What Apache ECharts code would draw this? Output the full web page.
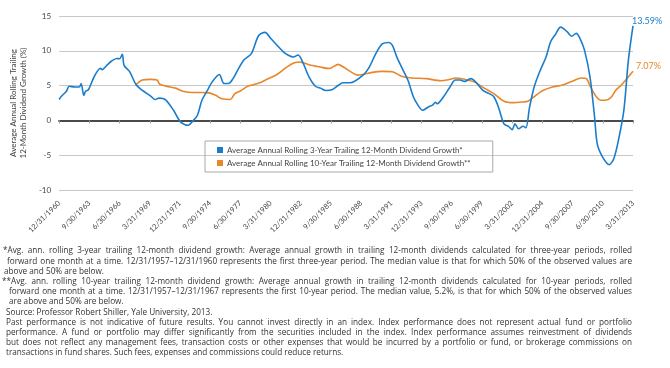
<!DOCTYPE html>
<html>
<head>
<meta charset="utf-8">
<script src="https://cdn.jsdelivr.net/npm/echarts@6/dist/echarts.min.js"></script>
<style>
  html, body { margin: 0; padding: 0; background: #fff; }
  #chart { width: 670px; height: 368px; }
</style>
</head>
<body>
<div id="chart"></div>
<script>
// x = months since 12/31/1960, y = growth (%)
var tickLabels = ['12/31/1960', '9/30/1963', '6/30/1966', '3/31/1969', '12/31/1971', '9/30/1974',
    '6/30/1977', '3/31/1980', '12/31/1982', '9/30/1985', '6/30/1988', '3/31/1991', '12/31/1993',
    '9/30/1996', '6/30/1999', '3/31/2002', '12/31/2004', '9/30/2007', '6/30/2010', '3/31/2013'];

var threeYear = [
    [0, 3.0], [2, 3.4], [8, 4.2], [11, 4.9], [17, 4.8], [22, 4.8], [24, 5.3], [27, 3.6], [29, 4.2],
    [32, 4.4], [38, 6.2], [45, 7.5], [47, 7.3], [52, 7.9], [57, 8.5], [63, 8.9], [66, 8.85], [69, 9.5],
    [71, 7.9], [77, 7.0], [84, 5.15], [91, 4.3], [100, 3.5], [105, 3.0], [109, 3.2], [116, 3.0],
    [125, 1.45], [132, -0.1], [141, -0.7], [146, -0.1], [151, 0.7], [156, 2.9], [162, 4.3], [167, 5.5],
    [175, 6.6], [180, 5.3], [185, 5.3], [190, 6.0], [195, 7.2], [202, 8.7], [210, 9.6], [218, 12.2],
    [225, 12.65], [231, 11.8], [238, 10.8], [245, 9.85], [250, 9.4], [256, 9.1], [261, 9.4], [266, 8.4],
    [273, 6.25], [280, 4.9], [286, 4.6], [291, 4.3], [298, 4.4], [305, 5.05], [310, 5.4], [318, 5.4],
    [332, 6.5], [339, 7.7], [346, 9.6], [353, 11.0], [360, 11.2], [364, 10.8], [369, 9.1], [374, 7.7],
    [381, 5.8], [387, 3.4], [392, 2.2], [397, 1.45], [403, 1.9], [408, 2.2], [411, 2.6], [413, 2.4],
    [420, 3.4], [427, 4.8], [433, 5.8], [438, 5.8], [443, 5.6], [450, 6.0], [456, 5.4], [463, 4.3],
    [470, 3.85], [475, 3.4], [480, 1.9], [486, -0.5], [491, -0.85], [495, -1.35], [498, -0.5],
    [502, -1.2], [507, -0.85], [510, -1.05], [514, 1.9], [519, 4.8], [525, 7.0], [532, 9.1],
    [537, 11.3], [542, 12.3], [548, 13.4], [555, 12.75], [560, 12.1], [565, 12.5], [569, 11.8],
    [574, 10.1], [580, 6.25], [585, 0.5], [588, -3.4], [594, -5.3], [601, -6.35], [606, -5.5],
    [611, -2.9], [617, 1.45], [622, 8.7], [627, 13.59]
];

var tenYear = [
    [84, 5.15], [91, 5.8], [100, 5.9], [107, 5.8], [110, 5.2], [121, 4.8], [128, 4.6], [135, 4.2],
    [146, 4.0], [156, 4.0], [164, 3.95], [171, 3.6], [178, 3.1], [187, 3.0], [192, 3.85], [199, 4.3],
    [206, 4.9], [217, 5.3], [227, 5.9], [238, 6.6], [249, 7.7], [257, 8.3], [263, 8.4], [273, 8.0],
    [284, 7.7], [295, 7.45], [305, 8.05], [310, 7.7], [321, 6.8], [326, 6.5], [332, 6.6], [342, 6.9],
    [353, 7.05], [364, 7.0], [374, 6.35], [385, 6.1], [401, 6.0], [417, 5.7], [427, 5.9], [433, 6.1],
    [443, 5.9], [454, 5.5], [465, 4.6], [475, 3.85], [486, 2.75], [496, 2.55], [507, 2.65], [512, 2.75],
    [518, 3.3], [528, 4.25], [539, 4.8], [549, 5.05], [560, 5.6], [571, 6.1], [576, 6.0], [581, 4.7],
    [587, 3.4], [592, 2.9], [597, 2.9], [603, 3.3], [608, 4.3], [614, 5.05], [619, 5.8], [627, 7.07]
];

// footnote lines: [text, left indent, justified?]
var footnotes = [
    ['*Avg. ann. rolling 3-year trailing 12-month dividend growth: Average annual growth in trailing 12-month dividends calculated for three-year periods, rolled', 3, true],
    ['forward one month at a time. 12/31/1957\u201312/31/1960 represents the first three-year period. The median value is that for which 50% of the observed values are', 7, true],
    ['above and 50% are below.', 4, false],
    ['**Avg. ann. rolling 10-year trailing 12-month dividend growth: Average annual growth in trailing 12-month dividends calculated for 10-year periods, rolled', 2, true],
    ['forward one month at a time. 12/31/1957\u201312/31/1967 represents the first 10-year period. The median value, 5.2%, is that for which 50% of the observed values', 9, true],
    ['are above and 50% are below.', 9, false],
    ['Source: Professor Robert Shiller, Yale University, 2013.', 6, false],
    ['Past performance is not indicative of future results. You cannot invest directly in an index. Index performance does not represent actual fund or portfolio', 6, true],
    ['performance. A fund or portfolio may differ significantly from the securities included in the index. Index performance assumes reinvestment of dividends', 6, true],
    ['but does not reflect any management fees, transaction costs or other expenses that would be incurred by a portfolio or fund, or brokerage commissions on', 6, true],
    ['transactions in fund shares. Such fees, expenses and commissions could reduce returns.', 6, false]
];

var blue = '#1a7dcc';
var orange = '#e8862c';
var font = 'Lato';
var noteFont = 'Open Sans';
var noteSize = 8.2;

var chart = echarts.init(document.getElementById('chart'));

// justify footnote lines word by word
var ctx = document.createElement('canvas').getContext('2d');
ctx.font = noteSize + 'px "' + noteFont + '"';
var notes = [];
footnotes.forEach(function (f, i) {
    var y = 251 + i * 10.2;
    var words = f[0].split(' ');
    var widths = words.map(function (w) { return ctx.measureText(w).width; });
    var total = widths.reduce(function (a, b) { return a + b; }, 0);
    var gap = ctx.measureText(' ').width;
    if (f[2]) gap = (632 - f[1] - total) / (words.length - 1);
    var x = f[1];
    words.forEach(function (w, j) {
        notes.push({
            type: 'text', x: x, y: y, silent: true,
            style: { text: w, fill: '#333', fontSize: noteSize, fontFamily: noteFont, verticalAlign: 'middle' }
        });
        x += widths[j] + gap;
    });
});

chart.setOption({
    animation: false,
    textStyle: { fontFamily: font },
    grid: { left: 43, right: 37, top: 16, bottom: 178 },
    legend: {
        orient: 'vertical',
        left: 205,
        top: 141,
        padding: [5, 22, 5, 12],
        itemGap: 5,
        itemWidth: 6,
        itemHeight: 6,
        icon: 'rect',
        borderColor: '#a8a8a8',
        borderWidth: 1,
        textStyle: { color: '#444', fontSize: 8, fontFamily: font, padding: [0, 0, 0, -1] },
        data: ['Average Annual Rolling 3-Year Trailing 12-Month Dividend Growth*',
            'Average Annual Rolling 10-Year Trailing 12-Month Dividend Growth**']
    },
    xAxis: [{
        type: 'value',
        min: 0, max: 627, interval: 33,
        axisLine: { onZero: true, lineStyle: { color: '#4a4a4a', width: 2 } },
        axisTick: { show: true, length: 3, lineStyle: { color: '#999' } },
        axisLabel: { show: false },
        splitLine: { show: false }
    }, {
        type: 'value',
        position: 'bottom',
        min: 0, max: 627, interval: 33,
        axisLine: { show: false },
        axisTick: { show: false },
        splitLine: { show: false },
        axisLabel: {
            rotate: 45,
            margin: 12,
            fontSize: 7.5,
            color: '#444',
            formatter: function (v) { return tickLabels[Math.round(v / 33)]; }
        }
    }],
    yAxis: {
        type: 'value',
        min: -10, max: 15, interval: 5,
        name: 'Average Annual Rolling Trailing\n12-Month Dividend Growth (%)',
        nameLocation: 'middle',
        nameGap: 23,
        nameTextStyle: { color: '#444', fontSize: 8, lineHeight: 10, fontFamily: font },
        axisLine: { show: false },
        axisTick: { show: false },
        axisLabel: { color: '#444', fontSize: 8, margin: 8 },
        splitLine: { lineStyle: { color: '#c8c8c8', width: 1 } }
    },
    series: [{
        name: 'Average Annual Rolling 3-Year Trailing 12-Month Dividend Growth*',
        type: 'line',
        data: threeYear,
        showSymbol: false,
        smooth: 0.3,
        lineStyle: { color: blue, width: 1.6 },
        itemStyle: { color: blue },
        z: 3,
        endLabel: {
            show: true,
            offset: [-9, -5],
            color: blue,
            fontSize: 9,
            formatter: function (p) { return p.value[1].toFixed(2) + '%'; }
        }
    }, {
        name: 'Average Annual Rolling 10-Year Trailing 12-Month Dividend Growth**',
        type: 'line',
        data: tenYear,
        showSymbol: false,
        smooth: 0.3,
        lineStyle: { color: orange, width: 1.6 },
        itemStyle: { color: orange },
        z: 2,
        endLabel: {
            show: true,
            offset: [-5, -5],
            color: orange,
            fontSize: 9,
            formatter: function (p) { return p.value[1].toFixed(2) + '%'; }
        }
    }],
    graphic: notes
});
</script>
</body>
</html>
